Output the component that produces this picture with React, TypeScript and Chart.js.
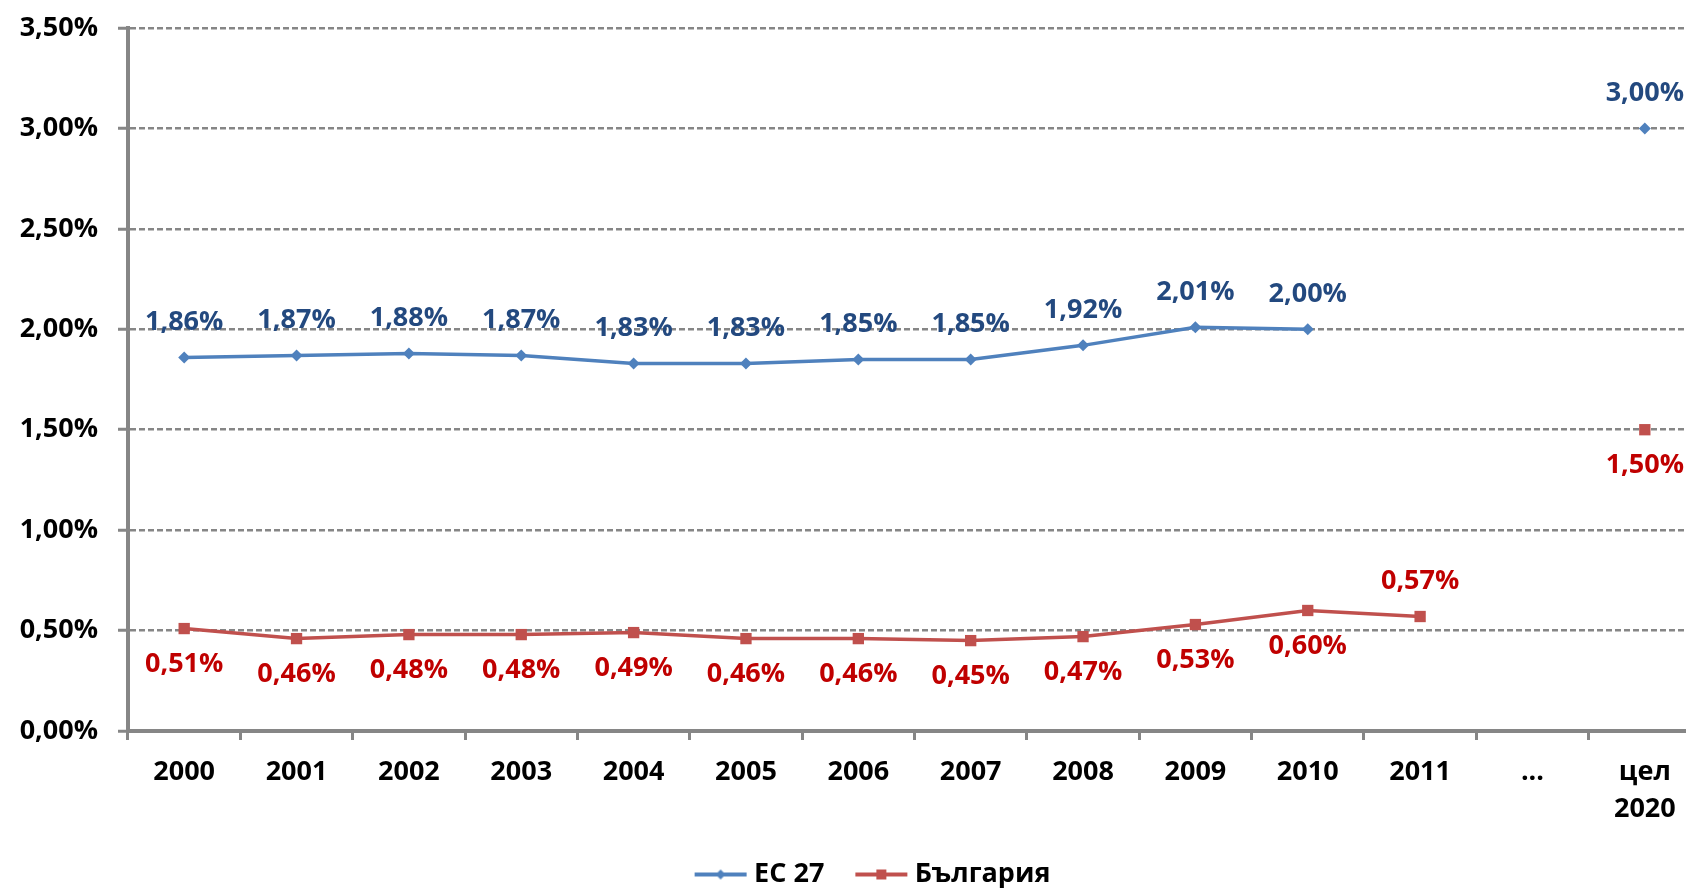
import React, { useEffect, useRef } from "react";
import { Chart, registerables } from "chart.js";

Chart.register(...registerables);

const categories: (string | string[])[] = [
  "2000", "2001", "2002", "2003", "2004", "2005", "2006", "2007",
  "2008", "2009", "2010", "2011", "...", ["цел", "2020"],
];
const eu27: (number | null)[] = [1.86, 1.87, 1.88, 1.87, 1.83, 1.83, 1.85, 1.85, 1.92, 2.01, 2.0, null, null, 3.0];
const bulgaria: (number | null)[] = [0.51, 0.46, 0.48, 0.48, 0.49, 0.46, 0.46, 0.45, 0.47, 0.53, 0.6, 0.57, null, 1.5];
const seriesNames = ["ЕС 27", "България"];
const yMin = 0;
const yMax = 3.5;
const yStep = 0.5;

const BLUE = "#4F81BD";
const RED = "#C0504D";
const BLUE_TEXT = "#23497F";
const RED_TEXT = "#C00000";
const GRID = "#868686";
const FONT = "'Open Sans', 'Noto Sans', sans-serif";

const fmt = (v: number) => v.toFixed(2).replace(".", ",") + "%";

function legendImage(color: string, style: "diamond" | "square"): HTMLCanvasElement {
  const c = document.createElement("canvas");
  c.width = 54;
  c.height = 16;
  const g = c.getContext("2d")!;
  g.strokeStyle = color;
  g.lineWidth = 4;
  g.beginPath();
  g.moveTo(1, 8);
  g.lineTo(53, 8);
  g.stroke();
  g.fillStyle = color;
  if (style === "diamond") {
    g.beginPath();
    g.moveTo(27, 3);
    g.lineTo(32, 8);
    g.lineTo(27, 13);
    g.lineTo(22, 8);
    g.closePath();
    g.fill();
  } else {
    g.fillRect(22, 3, 10, 10);
  }
  return c;
}

const pointLabelPlugin = {
  id: "pointValueLabels",
  afterDatasetsDraw(chart: any) {
    const ctx = chart.ctx;
    chart.data.datasets.forEach((ds: any, i: number) => {
      const meta = chart.getDatasetMeta(i);
      meta.data.forEach((pt: any, j: number) => {
        const v = ds.data[j];
        if (v == null) return;
        let above = i === 0;
        if (i === 1 && j === 11) above = true;
        ctx.save();
        ctx.font = `700 27px ${FONT}`;
        ctx.fillStyle = i === 0 ? BLUE_TEXT : RED_TEXT;
        ctx.textAlign = "center";
        ctx.textBaseline = "middle";
        ctx.fillText(fmt(v), pt.x, pt.y + (above ? -35 : 36));
        ctx.restore();
      });
    });
  },
};

export default function App() {
  const ref = useRef<HTMLCanvasElement>(null);

  useEffect(() => {
    if (!ref.current) return;
    const blueImg = legendImage(BLUE, "diamond");
    const redImg = legendImage(RED, "square");
    const chart = new Chart(ref.current, {
      type: "line",
      data: {
        labels: categories as any,
        datasets: [
          {
            label: seriesNames[0],
            data: eu27,
            borderColor: BLUE,
            backgroundColor: BLUE,
            borderWidth: 3.5,
            pointStyle: "rectRot",
            pointRadius: 6,
            pointBorderWidth: 0,
            pointBackgroundColor: BLUE,
            spanGaps: false,
            tension: 0,
          },
          {
            label: seriesNames[1],
            data: bulgaria,
            borderColor: RED,
            backgroundColor: RED,
            borderWidth: 3.5,
            pointStyle: "rect",
            pointRadius: 8,
            pointBorderWidth: 0,
            pointBackgroundColor: RED,
            spanGaps: false,
            tension: 0,
          },
        ],
      },
      options: {
        responsive: false,
        animation: false,
        devicePixelRatio: 1,
        layout: { padding: { left: 0, right: 31, top: 28, bottom: 0 } },
        plugins: {
          tooltip: { enabled: false },
          legend: {
            position: "bottom",
            labels: {
              usePointStyle: true,
              pointStyleWidth: 40,
              padding: 37,
              color: "#000",
              font: { family: FONT, size: 27, weight: 700 as any },
              generateLabels: (ch: any) => {
                const items = Chart.defaults.plugins.legend.labels.generateLabels(ch);
                items.forEach((it: any, idx: number) => {
                  it.pointStyle = idx === 0 ? blueImg : redImg;
                });
                return items;
              },
            },
          },
        },
        scales: {
          x: {
            offset: true,
            grid: {
              offset: true,
              drawOnChartArea: false,
              drawTicks: true,
              tickLength: 9,
              color: GRID,
              lineWidth: 3,
            },
            border: { display: true, color: GRID, width: 4 },
            ticks: {
              color: "#000",
              padding: 13,
              maxRotation: 0,
              autoSkip: false,
              font: { family: FONT, size: 27, weight: 700 as any, lineHeight: 1.4 },
            },
            afterFit: (s: any) => {
              s.height = 93;
            },
          },
          y: {
            min: yMin,
            max: yMax,
            grid: {
              color: GRID,
              lineWidth: 2.5,
              tickLength: 10,
              drawTicks: true,
              tickColor: GRID,
              tickWidth: 3,
            },
            border: { display: true, color: GRID, width: 4, dash: [6, 3] },
            ticks: {
              stepSize: yStep,
              padding: 20,
              color: "#000",
              font: { family: FONT, size: 27, weight: 700 as any },
              callback: (v: any) => fmt(Number(v)),
            },
            afterFit: (s: any) => {
              s.width = 128;
              s.paddingTop = 0;
              s.paddingBottom = 0;
            },
          },
          yRightSpace: {
            position: "right",
            display: true,
            min: yMin,
            max: yMax,
            grid: { display: false, drawTicks: false },
            border: { display: false },
            ticks: { display: false },
            afterFit: (s: any) => {
              s.width = 50;
              s.paddingTop = 0;
              s.paddingBottom = 0;
            },
          },
        },
      },
      plugins: [pointLabelPlugin],
    });
    return () => chart.destroy();
  }, []);

  return (
    <div
      style={{
        position: "fixed",
        left: 0,
        top: 0,
        width: "100vw",
        height: "100vh",
        overflow: "hidden",
        background: "#fff",
      }}
    >
      <canvas ref={ref} width={1782} height={898} style={{ display: "block" }} />
    </div>
  );
}
